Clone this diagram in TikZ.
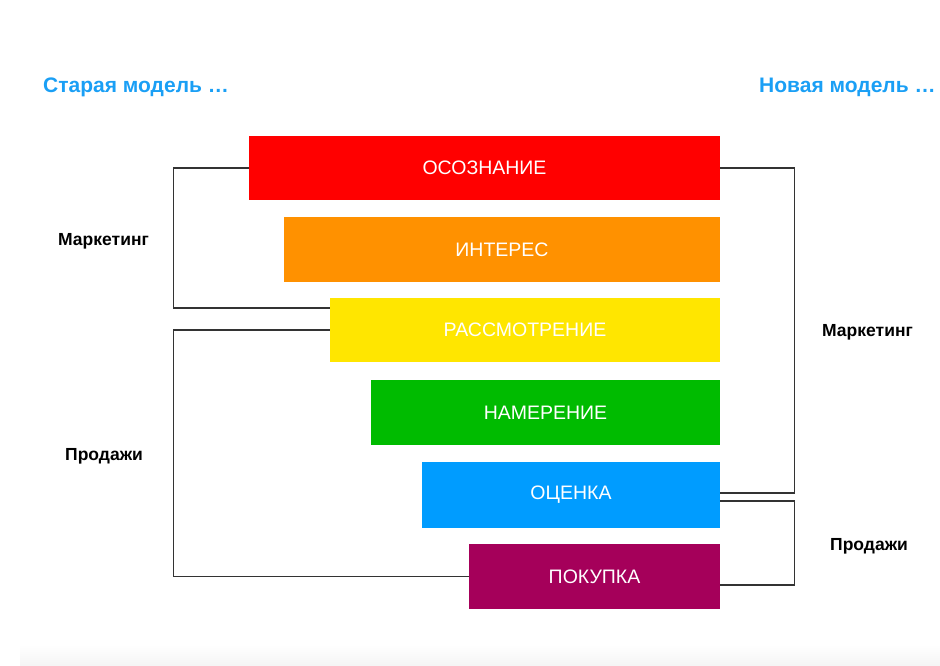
\documentclass[tikz,border=0pt]{standalone}
\usepackage{fontspec}
\setmainfont{Liberation Sans}
\definecolor{cred}{HTML}{FF0000}
\definecolor{corange}{HTML}{FF9100}
\definecolor{cyellow}{HTML}{FFE600}
\definecolor{cgreen}{HTML}{00BB00}
\definecolor{cblue}{HTML}{009CFF}
\definecolor{cpurple}{HTML}{A5005A}
\definecolor{ctitle}{HTML}{1A9FF5}
\definecolor{cline}{HTML}{333333}
\begin{document}
\begin{tikzpicture}[x=1pt,y=-1pt,
  stage/.style={inner sep=0pt, text=white, font=\fontsize{19.5}{22}\selectfont},
  title/.style={anchor=west, inner sep=0pt, text=ctitle, font=\fontsize{21}{24}\selectfont\bfseries},
  lab/.style={anchor=west, inner sep=0pt, font=\fontsize{17.5}{20}\selectfont\bfseries},
  bracket/.style={draw=cline, line width=1.3pt}]
\useasboundingbox (0,0) rectangle (940,665);
\shade[top color=white, bottom color=black!4, draw=none] (20,645) rectangle (940,665);

\node[title] (old) at (43,87) {Старая модель …};
\node[title] (new) at (759,87) {Новая модель …};

\node[stage, fill=cred, minimum width=471pt, minimum height=64pt] (s1) at (484.5,168) {ОСОЗНАНИЕ};
\node[stage, fill=corange, minimum width=436pt, minimum height=65pt] (s2) at (502,249.5) {ИНТЕРЕС};
\node[stage, fill=cyellow, minimum width=390pt, minimum height=64pt] (s3) at (525,330) {РАССМОТРЕНИЕ};
\node[stage, fill=cgreen, minimum width=349pt, minimum height=65pt] (s4) at (545.5,412.5) {НАМЕРЕНИЕ};
\node[stage, fill=cblue, minimum width=298pt, minimum height=66pt] (s5) at (571,495) {ОЦЕНКА};
\node[stage, fill=cpurple, minimum width=251pt, minimum height=65pt] (s6) at (594.5,576.5) {ПОКУПКА};

\node[lab] (lm) at (58,241) {Маркетинг};
\node[lab] (ls) at (65,456) {Продажи};
\node[lab] (rm) at (822,332) {Маркетинг};
\node[lab] (rs) at (830,546) {Продажи};

\draw[bracket] (s1.west) -- ++(-75,0) |- ([yshift=22pt]s3.west);
\draw[bracket] (s3.west) -- ++(-156,0) |- (s6.west);
\draw[bracket] (s1.east) -- ++(74,0) |- ([yshift=2pt]s5.east);
\draw[bracket] ([yshift=-6pt]s5.east) -- ++(74,0) |- ([yshift=-8.5pt]s6.east);
\end{tikzpicture}
\end{document}
